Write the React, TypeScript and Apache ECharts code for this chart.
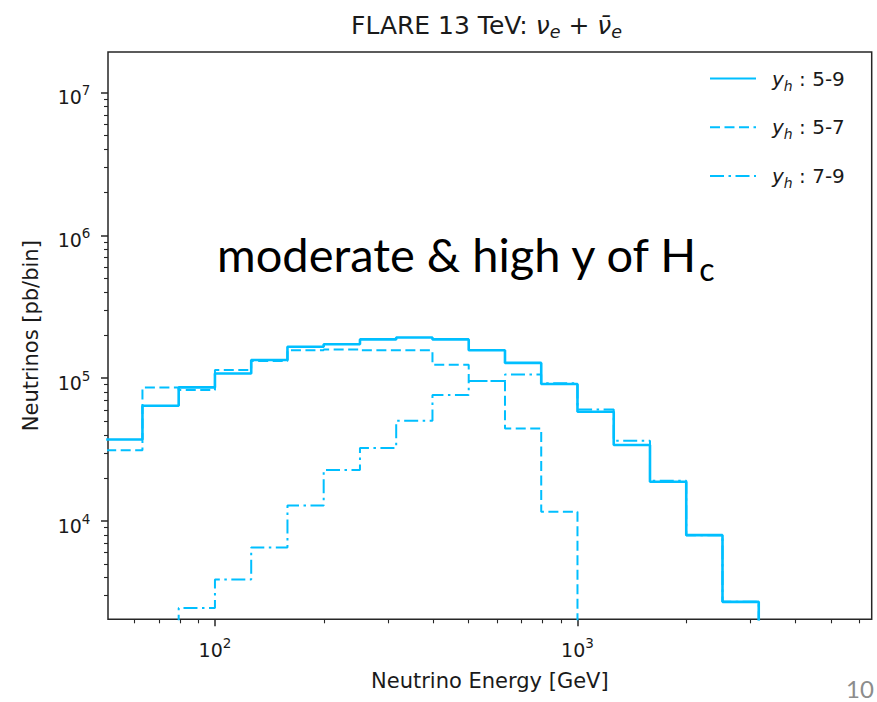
import { useEffect, useRef } from 'react';
import * as echarts from 'echarts';

// ---------- data ----------
// histogram bin edges (GeV), 10 log bins per decade
const binEdges = [50.12, 63.1, 79.43, 100, 125.9, 158.5, 199.5, 251.2, 316.2, 398.1, 501.2, 631.0, 794.3, 1000, 1258.9, 1584.9, 1995.3, 2511.9, 3162.3];
// neutrinos per bin [pb/bin]; 0 = empty bin
const yh59 = [37200, 64100, 86200, 108000, 134000, 166000, 173000, 187000, 193000, 187000, 157000, 128000, 91000, 58200, 34000, 18800, 7950, 2710];
const yh57 = [31300, 86200, 82600, 114000, 132000, 157000, 159000, 157000, 157000, 124000, 95400, 44500, 11600, 0, 0, 0, 0, 0];
const yh79 = [0, 0, 2450, 3890, 6520, 12800, 22700, 32400, 50300, 76200, 95400, 106000, 92000, 60400, 36400, 19100, 7950, 2710];
const seriesNames = ['5-9', '5-7', '7-9'];

const xMajorTicks = [100, 1000];
const xMinorTicks = [60, 70, 80, 90, 200, 300, 400, 500, 600, 700, 800, 900, 2000, 3000, 4000, 5000, 6000];
const yMajorTicks = [1e4, 1e5, 1e6, 1e7];
const yMinorTicks = [
  3000, 4000, 5000, 6000, 7000, 8000, 9000,
  2e4, 3e4, 4e4, 5e4, 6e4, 7e4, 8e4, 9e4,
  2e5, 3e5, 4e5, 5e5, 6e5, 7e5, 8e5, 9e5,
  2e6, 3e6, 4e6, 5e6, 6e6, 7e6, 8e6, 9e6,
];
const X_MIN = 50.7;
const X_MAX = 6480;
const Y_MIN = 2045;
const Y_MAX = 1.93e7;

const titleText = '{n|FLARE 13 TeV: }{i|ν}{s|e}{p|+}{i|ν̄}{s|e}';
const xName = 'Neutrino Energy [GeV]';
const yName = 'Neutrinos [pb/bin]';
const noteMain = 'moderate & high y of H';
const noteSub = 'c';
const pageNumber = '10';

// ---------- style ----------
const FONT = 'DejaVu Sans';
const LINE = '#00bfff';
const INK = '#1a1a1a';
const SPINE = '#262626';
const FLOOR = 1; // empty bins: far below the axis, clipped

function stepData(vals: number[]) {
  const pts: number[][] = [];
  for (let i = 0; i < vals.length; i++) pts.push([binEdges[i], vals[i] > 0 ? vals[i] : FLOOR]);
  pts.push([binEdges[vals.length], FLOOR]);
  return pts;
}

const supLabel = (v: number) => `{b|10}{e|${Math.round(Math.log10(v))}}`;

export default function App() {
  const ref = useRef<HTMLDivElement>(null);
  useEffect(() => {
    const chart = echarts.init(ref.current!, undefined, { renderer: 'svg' });
    const common = { type: 'log' as const, logBase: 10, splitLine: { show: false } };
    const option: any = {
      animation: false,
      backgroundColor: '#ffffff',
      title: {
        text: titleText,
        left: 351,
        top: 10,
        padding: 0,
        textStyle: {
          fontWeight: 'normal',
          fontFamily: FONT,
          fontSize: 25,
          rich: {
            n: { fontFamily: FONT, fontSize: 25, fontWeight: 'normal', color: INK, lineHeight: 30 },
            p: { fontFamily: FONT, fontSize: 25, fontWeight: 'normal', color: INK, lineHeight: 30, padding: [0, 8, 0, 8] },
            i: { fontFamily: FONT, fontSize: 25, fontWeight: 'normal', fontStyle: 'italic', color: INK, lineHeight: 30 },
            s: { fontFamily: FONT, fontSize: 17.5, fontWeight: 'normal', fontStyle: 'italic', color: INK, lineHeight: 30, padding: [13.8, 0, 0, 0] },
          },
        },
      },
      grid: {
        left: 108, top: 52, right: 5.3, bottom: 82.7,
        show: true, borderColor: SPINE, borderWidth: 1.5, backgroundColor: 'transparent',
      },
      legend: {
        orient: 'vertical', left: 709, top: 64.4, padding: 0,
        itemWidth: 46, itemHeight: 24, itemGap: 20.5,
        selectedMode: false,
        itemStyle: { opacity: 0 },
        data: seriesNames,
        formatter: (name: string) => `{i|y}{s|h}{n| : ${name}}`,
        textStyle: {
          fontFamily: FONT,
          fontSize: 20,
          lineHeight: 24,
          rich: {
            i: { fontFamily: FONT, fontSize: 20, fontStyle: 'italic', color: INK, lineHeight: 24, padding: [0, 0, 0, 11] },
            s: { fontFamily: FONT, fontSize: 14, fontStyle: 'italic', color: INK, lineHeight: 24, padding: [14.2, 0, 0, 0] },
            n: { fontFamily: FONT, fontSize: 20, color: INK, lineHeight: 24 },
          },
        },
      },
      xAxis: [
        {
          ...common, gridIndex: 0, position: 'bottom', min: X_MIN, max: X_MAX,
          axisLine: { show: false, onZero: false },
          axisTick: { show: true, customValues: xMajorTicks, length: 7, lineStyle: { color: SPINE, width: 1.5 } },
          axisLabel: {
            show: true, customValues: xMajorTicks, formatter: supLabel, margin: 17.7,
            rich: {
              b: { fontFamily: FONT, fontSize: 19, color: INK, lineHeight: 26 },
              e: { fontFamily: FONT, fontSize: 13.5, color: INK, lineHeight: 26, padding: [0, 0, 14.8, 0] },
            },
          },
          name: xName, nameLocation: 'middle', nameGap: 48.4,
          nameTextStyle: { fontFamily: FONT, fontSize: 21, color: INK, lineHeight: 24 },
        },
        {
          ...common, gridIndex: 0, position: 'bottom', min: X_MIN, max: X_MAX,
          axisLine: { show: false, onZero: false },
          axisTick: { show: true, customValues: xMinorTicks, length: 4, lineStyle: { color: SPINE, width: 1.1 } },
          axisLabel: { show: false },
        },
      ],
      yAxis: [
        {
          ...common, gridIndex: 0, position: 'left', min: Y_MIN, max: Y_MAX,
          axisLine: { show: false, onZero: false },
          axisTick: { show: true, customValues: yMajorTicks, length: 7, lineStyle: { color: SPINE, width: 1.5 } },
          axisLabel: {
            show: true, customValues: yMajorTicks, formatter: supLabel, margin: 17.6,
            rich: {
              b: { fontFamily: FONT, fontSize: 19, color: INK, lineHeight: 26, padding: [9.4, 0, 0, 0] },
              e: { fontFamily: FONT, fontSize: 13.5, color: INK, lineHeight: 26, padding: [0, 0, 4.8, 0] },
            },
          },
          name: yName, nameLocation: 'middle', nameRotate: 90, nameGap: 65,
          nameTextStyle: { fontFamily: FONT, fontSize: 21, color: INK, lineHeight: 24 },
        },
        {
          ...common, gridIndex: 0, position: 'left', min: Y_MIN, max: Y_MAX,
          axisLine: { show: false, onZero: false },
          axisTick: { show: true, customValues: yMinorTicks, length: 4, lineStyle: { color: SPINE, width: 1.1 } },
          axisLabel: { show: false },
        },
      ],
      series: [
        {
          type: 'line', name: seriesNames[0], data: stepData(yh59), step: 'end',
          xAxisIndex: 0, yAxisIndex: 0, symbol: 'none', showSymbol: false, clip: true, silent: true,
          lineStyle: { color: LINE, width: 2.6, type: 'solid' }, itemStyle: { color: LINE },
        },
        {
          type: 'line', name: seriesNames[1], data: stepData(yh57), step: 'end',
          xAxisIndex: 0, yAxisIndex: 0, symbol: 'none', showSymbol: false, clip: true, silent: true,
          lineStyle: { color: LINE, width: 2, type: [10, 4.5] }, itemStyle: { color: LINE },
        },
        {
          type: 'line', name: seriesNames[2], data: stepData(yh79), step: 'end',
          xAxisIndex: 0, yAxisIndex: 0, symbol: 'none', showSymbol: false, clip: true, silent: true,
          lineStyle: { color: LINE, width: 2, type: [14, 4.5, 2.5, 4.5] }, itemStyle: { color: LINE },
        },
      ],
      graphic: [
        {
          type: 'text', x: 217, y: 253.5, silent: true,
          style: {
            text: `{m|${noteMain}}{s|${noteSub}}`,
            verticalAlign: 'middle',
            rich: {
              m: { fontFamily: 'Lato', fontSize: 47, fill: '#000000', lineHeight: 60 },
              s: { fontFamily: 'Lato', fontSize: 32, fill: '#000000', lineHeight: 60, padding: [30.2, 0, 0, 0] },
            },
          },
        },
        {
          type: 'text', x: 846, y: 688, silent: true,
          style: { text: pageNumber, fontFamily: 'Lato', fontSize: 24, fill: '#8c8c8c', verticalAlign: 'middle' },
        },
      ],
    };
    chart.setOption(option);
    return () => chart.dispose();
  }, []);
  return (
    <div
      ref={ref}
      style={{ position: 'fixed', left: 0, top: 0, width: 877, height: 702, background: '#ffffff' }}
    />
  );
}
